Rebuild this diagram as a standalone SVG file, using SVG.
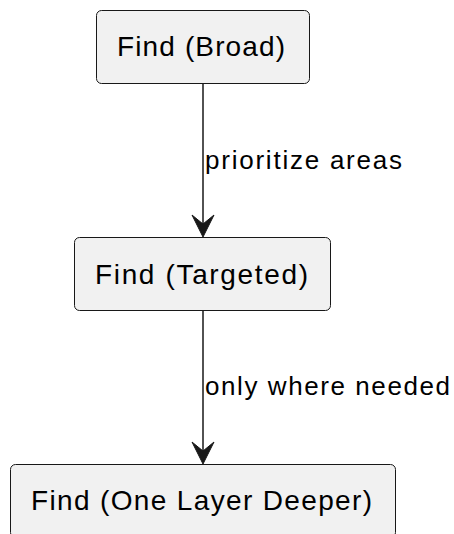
<svg xmlns="http://www.w3.org/2000/svg" width="454" height="534" viewBox="0 0 454 534">
<defs>
<style>
.box{fill:#F1F1F1;stroke:#181818;stroke-width:1}
.t{font-family:"Liberation Sans",Arial,sans-serif;font-size:28px;fill:#000}
.l{font-family:"Liberation Sans",Arial,sans-serif;font-size:26px;fill:#000}
.edge{stroke:#181818;stroke-width:1.5;fill:none}
.head{fill:#181818;stroke:#181818;stroke-width:1}
</style>
</defs>
<rect width="454" height="534" fill="#FFFFFF"/>
<g id="connectors">
<line class="edge" x1="203" y1="84" x2="203" y2="230"/>
<polygon class="head" points="203,237 192,215 203,224 214,215"/>
<text class="l" x="205" y="169" textLength="197" lengthAdjust="spacing">prioritize areas</text>
<line class="edge" x1="203" y1="310" x2="203" y2="457"/>
<polygon class="head" points="203,464 192,442 203,451 214,442"/>
<text class="l" x="205" y="395" textLength="245" lengthAdjust="spacing">only where needed</text>
</g>
<g id="node-broad">
<rect class="box" x="96.5" y="10.5" width="213" height="73" rx="5"/>
<text class="t" x="117" y="56" textLength="168" lengthAdjust="spacing">Find (Broad)</text>
</g>
<g id="node-targeted">
<rect class="box" x="74.5" y="237.5" width="256" height="73" rx="5"/>
<text class="t" x="95" y="283.5" textLength="213" lengthAdjust="spacing">Find (Targeted)</text>
</g>
<g id="node-deeper">
<rect class="box" x="10.5" y="464.5" width="385" height="73" rx="5"/>
<text class="t" x="31" y="510" textLength="341" lengthAdjust="spacing">Find (One Layer Deeper)</text>
</g>
</svg>
